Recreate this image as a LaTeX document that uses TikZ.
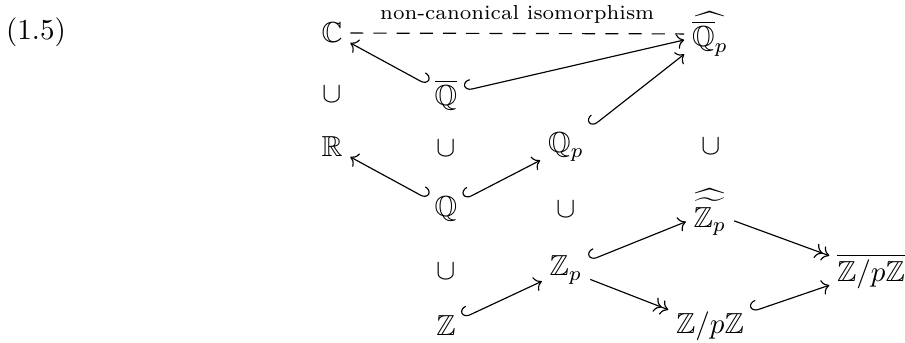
\documentclass[tikz,border=0pt]{standalone}
\usepackage{amsmath, amssymb}
\usepackage{tikz}
\usetikzlibrary{arrows.meta}
\tikzset{
  obj/.style      = {inner sep=2.5pt},
  sub/.style      = {inner sep=0pt},
  incl/.style     = {{Hooks[right, width=7pt, length=2.4pt]}-{Computer Modern Rightarrow}},
  inclr/.style    = {{Hooks[left, width=7pt, length=2.4pt]}-{Computer Modern Rightarrow}},
  surj/.style     = {-{Computer Modern Rightarrow[]Computer Modern Rightarrow}},
  iso/.style      = {dash pattern=on 4.5pt off 3.5pt},
  isolabel/.style = {font=\scriptsize},
}

\begin{document}
\begin{tikzpicture}[x=0.345pt, y=-0.345pt]
  \useasboundingbox (0,0) rectangle (905,342);

  \node (eqno) at (36,32) {(1.5)};

  % rows, top to bottom
  \node[obj] (cc)     at (332,33)  {$\mathbb{C}$};
  \node[obj] (qphat)  at (710,34)  {$\widehat{\overline{\mathbb{Q}}_p}$};

  \node[sub] (u1)     at (332,94)  {$\cup$};
  \node[obj] (qbar)   at (446,95)  {$\overline{\mathbb{Q}}$};

  \node[obj] (rr)     at (332,147) {$\mathbb{R}$};
  \node[sub] (u2)     at (446,148) {$\cup$};
  \node[obj] (qp)     at (566,147) {$\mathbb{Q}_p$};
  \node[sub] (u3)     at (711,146) {$\cup$};

  \node[obj] (qq)     at (446,209) {$\mathbb{Q}$};
  \node[sub] (u4)     at (566,209) {$\cup$};
  \node[obj] (zphat)  at (710,212) {$\widehat{\widetilde{\mathbb{Z}_p}}$};

  \node[sub] (u5)     at (446,271) {$\cup$};
  \node[obj] (zp)     at (566,270) {$\mathbb{Z}_p$};
  \node[obj] (zpzbar) at (871,271) {$\overline{\mathbb{Z}/p\mathbb{Z}}$};

  \node[obj] (zz)     at (446,326) {$\mathbb{Z}$};
  \node[obj] (zpz)    at (710,326) {$\mathbb{Z}/p\mathbb{Z}$};

  \draw[iso] (cc) -- node[isolabel, above] {non-canonical isomorphism} (qphat);

  \draw[inclr] (qbar) -- (cc);
  \draw[incl]  (qbar) -- (qphat);
  \draw[incl]  (qp)   -- (qphat);
  \draw[inclr] (qq)   -- (rr);
  \draw[incl]  (qq)   -- (qp);
  \draw[incl]  (zz)   -- (zp);
  \draw[incl]  (zp)   -- (zphat);
  \draw[surj]  (zp)   -- (zpz);
  \draw[surj]  (zphat) -- (zpzbar);
  \draw[incl]  (zpz)  -- (zpzbar);
\end{tikzpicture}
\end{document}
